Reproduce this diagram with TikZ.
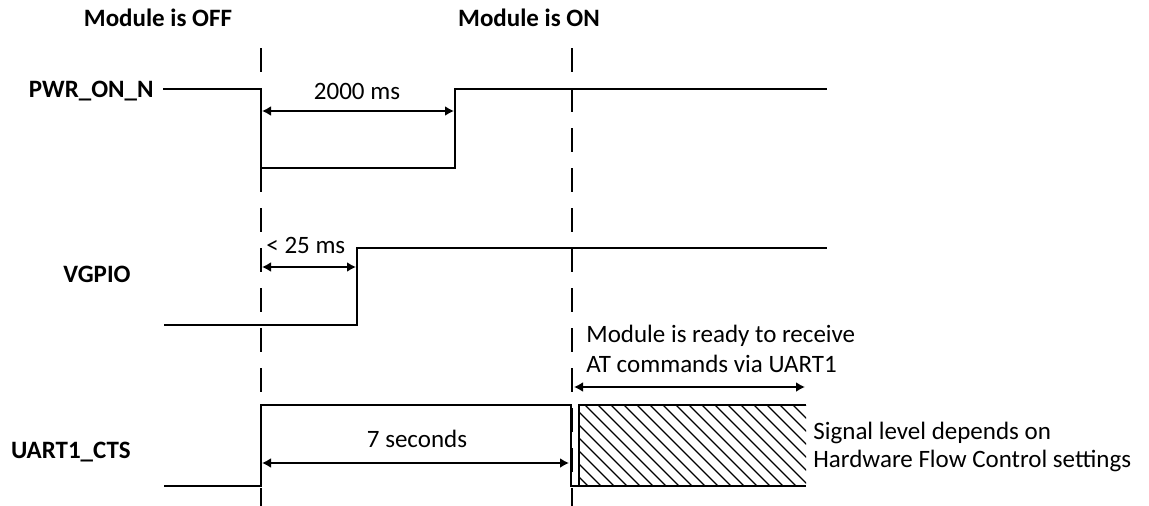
\documentclass[tikz,border=0pt]{standalone}
\usepackage{fontspec}
\setmainfont{Carlito}
\usetikzlibrary{arrows.meta}

\begin{document}
\begin{tikzpicture}[x=1pt,y=-1pt,line width=2.8pt,
  every node/.style={font=\fontsize{25}{30}\selectfont,inner sep=0pt},
  signame/.style={font=\fontsize{25}{30}\selectfont\bfseries},
  dimarrow/.style={{Latex[length=9pt,width=10pt]}-{Latex[length=9pt,width=10pt]}},
  cut/.style={dash pattern=on 24pt off 16pt},
  hatch/.style={line width=1.2pt}]
  \useasboundingbox (0,0) rectangle (1149,506);

  % states
  \node[signame,anchor=base] (off) at (158,27) {Module is OFF};
  \node[signame,anchor=base] (on) at (529,27) {Module is ON};
  \coordinate (cutA) at (261,48);
  \coordinate (cutB) at (572,48);
  \draw[cut] (cutA) -- (cutA |- 0,506);
  \draw[cut] (cutB) -- (cutB |- 0,506);

  % PWR_ON_N
  \node[signame,anchor=base east] (pwr) at (155,97) {PWR\_ON\_N};
  \draw (163,89) -- (261,89) -- (261,168) -- (455,168) -- (455,89) -- (827,89);
  \coordinate (pwrA) at (262,111);
  \coordinate (pwrB) at (454,111);
  \draw[dimarrow] (pwrA) -- (pwrB);
  \node[anchor=base] (pwrT) at (357,99) {2000 ms};

  % VGPIO
  \node[signame,anchor=base east] (vgpio) at (132,282) {VGPIO};
  \draw (164,325) -- (357,325) -- (357,248) -- (827,248);
  \coordinate (vgA) at (262,267);
  \coordinate (vgB) at (356,267);
  \draw[dimarrow] (vgA) -- (vgB);
  \node[anchor=base west] (vgT) at (265,253) {< 25 ms};

  % UART1_CTS
  \node[signame,anchor=base east] (cts) at (132,458) {UART1\_CTS};
  \begin{scope}
    \clip (579,405) rectangle (806,486);
    \foreach \x in {494,507,...,806}
      \draw[hatch] (\x,405) -- ++(90,90);
  \end{scope}
  \draw (164,486) -- (261,486) -- (261,405) -- (571,405) -- (571,486) -- (806,486);
  \draw (806,405) -- (579,405) -- (579,486);
  \coordinate (ctsA) at (262,463);
  \coordinate (ctsB) at (569,463);
  \draw[dimarrow] (ctsA) -- (ctsB);
  \node[anchor=base] (ctsT) at (417,447) {7 seconds};

  % ready
  \coordinate (rdyA) at (574,387);
  \coordinate (rdyB) at (805,387);
  \draw[dimarrow] (rdyA) -- (rdyB);
  \node[anchor=base west] (rdy1) at (585,342) {Module is ready to receive};
  \node[anchor=base west] (rdy2) at (585,372) {AT commands via UART1};
  \node[anchor=base west] (lvl1) at (812,439) {Signal level depends on};
  \node[anchor=base west] (lvl2) at (812,467) {Hardware Flow Control settings};
\end{tikzpicture}
\end{document}
